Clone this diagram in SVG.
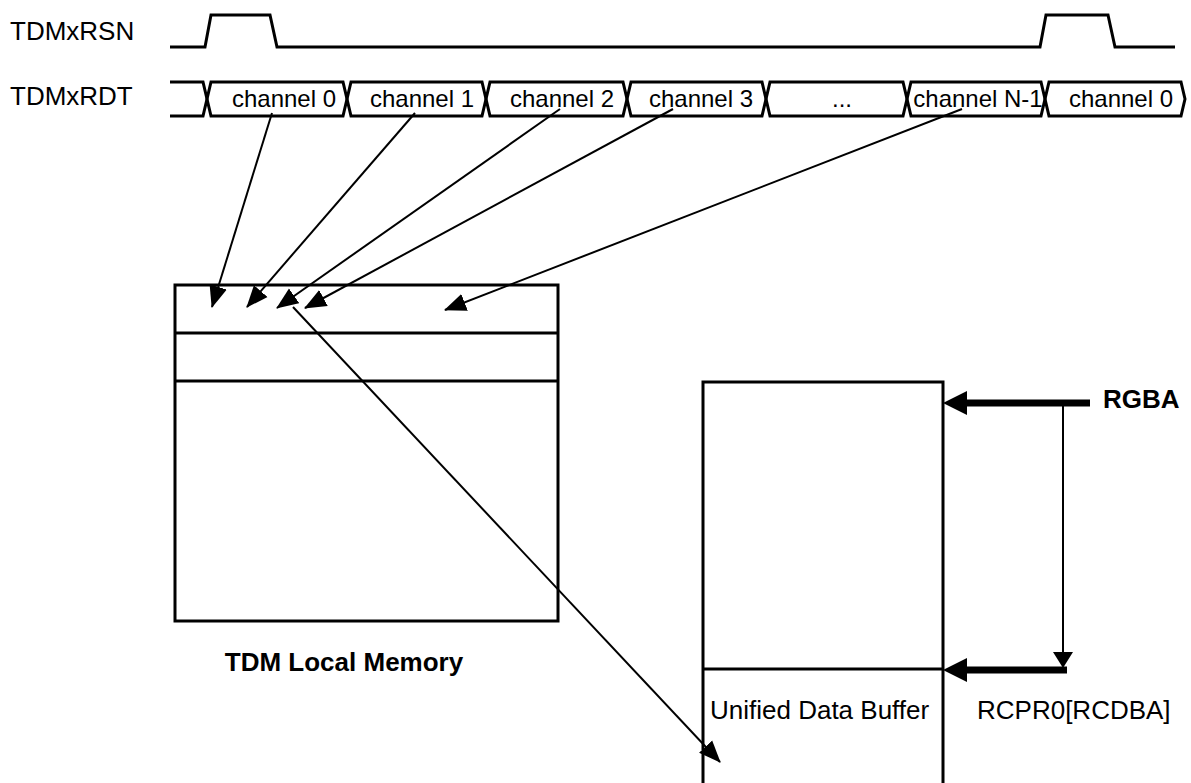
<svg xmlns="http://www.w3.org/2000/svg" width="1191" height="783" viewBox="0 0 1191 783">
<defs>
<style>
.t{font-family:"Liberation Sans",Arial,sans-serif;fill:#000}
.sig{fill:none;stroke:#000;stroke-width:3;stroke-linejoin:miter}
.box{fill:none;stroke:#000;stroke-width:3}
.ln{fill:none;stroke:#000;stroke-width:2}
.thick{fill:none;stroke:#000;stroke-width:7}
</style>
<marker id="ah" markerWidth="22" markerHeight="20" refX="21" refY="9" orient="auto" markerUnits="userSpaceOnUse" viewBox="0 0 22 18">
<path d="M0,0 L22,9 L0,18 z" fill="#000"/>
</marker>
</defs>
<rect width="1191" height="783" fill="#fff"/>
<g id="labels">
<text class="t" x="10" y="40" font-size="26">TDMxRSN</text>
<text class="t" x="10" y="105" font-size="26">TDMxRDT</text>
</g>
<g id="rsn">
<path class="sig" d="M170,47 L205,47 L211,15 L270,15 L277,47 L1040,47 L1046,15 L1108,15 L1115,47 L1175,47"/>
</g>
<g id="rdt" class="sig">
<path d="M170,82 L203,82 L207,99 L203,116 L170,116"/>
<path d="M211,82 L343,82 L347,99 L343,116 L211,116 L207,99 Z"/>
<path d="M351,82 L482,82 L486,99 L482,116 L351,116 L347,99 Z"/>
<path d="M490,82 L623,82 L627,99 L623,116 L490,116 L486,99 Z"/>
<path d="M631,82 L762,82 L766,99 L762,116 L631,116 L627,99 Z"/>
<path d="M770,82 L903,82 L907,99 L903,116 L770,116 L766,99 Z"/>
<path d="M911,82 L1041,82 L1045,99 L1041,116 L911,116 L907,99 Z"/>
<path d="M1049,82 L1181,82 L1185,99 L1181,116 L1049,116 L1045,99 Z"/>
</g>
<g id="channels" font-size="24">
<text class="t" x="284" y="107" text-anchor="middle">channel 0</text>
<text class="t" x="422" y="107" text-anchor="middle">channel 1</text>
<text class="t" x="562" y="107" text-anchor="middle">channel 2</text>
<text class="t" x="701" y="107" text-anchor="middle">channel 3</text>
<text class="t" x="842" y="107" text-anchor="middle">...</text>
<text class="t" x="978" y="107" text-anchor="middle">channel N-1</text>
<text class="t" x="1121" y="107" text-anchor="middle">channel 0</text>
</g>
<g id="tdm-local-memory">
<rect class="box" x="175" y="285" width="383" height="336"/>
<line class="box" x1="175" y1="333" x2="558" y2="333"/>
<line class="box" x1="175" y1="381" x2="558" y2="381"/>
<text class="t" x="344" y="671" font-size="26" font-weight="bold" text-anchor="middle">TDM Local Memory</text>
</g>
<g id="unified-data-buffer">
<path class="box" d="M703,785 L703,382 L943,382 L943,785"/>
<line class="box" x1="703" y1="669" x2="943" y2="669"/>
<text class="t" x="710" y="719" font-size="26">Unified Data Buffer</text>
</g>
<g id="rgba">
<text class="t" x="1103" y="408" font-size="26" font-weight="bold">RGBA</text>
</g>
<g id="rcpr">
<text class="t" x="977" y="719" font-size="26">RCPR0[RCDBA]</text>
</g>
<g id="connectors">
<line class="ln" x1="272" y1="113" x2="212" y2="307" marker-end="url(#ah)"/>
<line class="ln" x1="415" y1="113" x2="247" y2="307" marker-end="url(#ah)"/>
<line class="ln" x1="560" y1="109" x2="277" y2="308" marker-end="url(#ah)"/>
<line class="ln" x1="673" y1="109" x2="305" y2="308" marker-end="url(#ah)"/>
<line class="ln" x1="962" y1="109" x2="445" y2="310" marker-end="url(#ah)"/>
<line class="ln" x1="293" y1="307" x2="720" y2="762" marker-end="url(#ah)"/>
<line class="thick" x1="1090" y1="403" x2="965" y2="403"/>
<path d="M943,403 L967,391 L967,415 Z" fill="#000"/>
<line class="ln" x1="1063" y1="403" x2="1063" y2="655"/>
<path d="M1063,668 L1053,652 L1073,652 Z" fill="#000"/>
<line class="thick" x1="1067" y1="670" x2="965" y2="670"/>
<path d="M943,670 L967,658 L967,682 Z" fill="#000"/>
</g>
</svg>
